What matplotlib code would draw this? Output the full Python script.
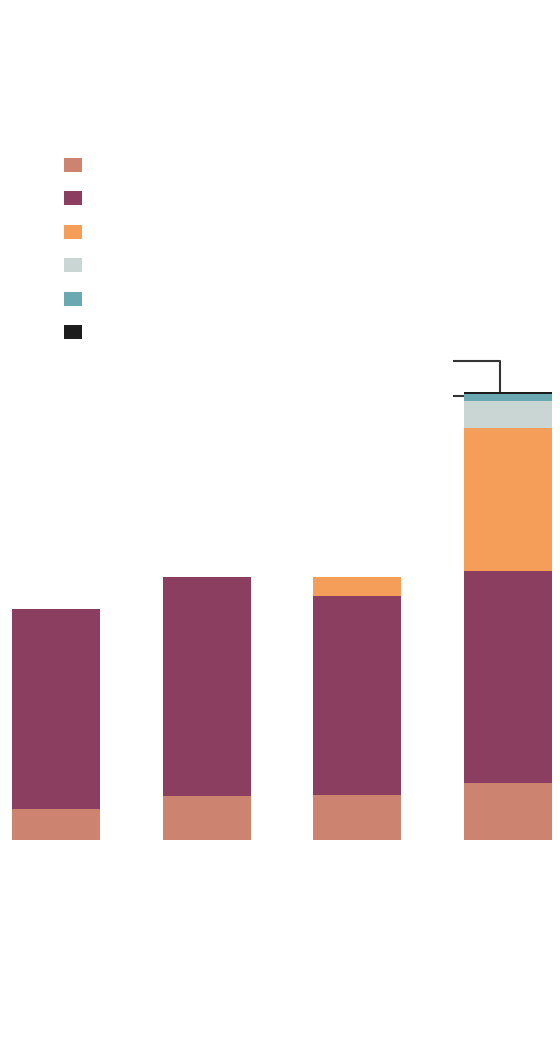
import matplotlib
matplotlib.use("Agg")
import matplotlib.pyplot as plt
import numpy as np

# stacked values, bottom to top (arbitrary units)
groups = ["A", "B", "C", "D"]
salmon = [31, 44, 45, 57]
purple = [200, 219, 199, 212]
orange = [0, 0, 19, 143]
grey = [0, 0, 0, 27]
teal = [0, 0, 0, 7]
black = [0, 0, 0, 2]

series = [salmon, purple, orange, grey, teal, black]
colors = ["#cc8470", "#8b3e5f", "#f59e5a", "#c9d6d3", "#6aa8b2", "#1c1c1c"]

W, H = 560, 1052
fig = plt.figure(figsize=(W / 100, H / 100), dpi=100)

# main axes covers the whole canvas, baseline at pixel row 840
ax = fig.add_axes([0, 0, 1, 1])
ax.set_xlim(0, W)
ax.set_ylim(840 - H, 840)
ax.axis("off")

x = np.array([56, 207, 357, 508])
bottom = np.zeros(len(groups))
for vals, c in zip(series, colors):
    ax.bar(x, vals, width=88, bottom=bottom, color=c, linewidth=0)
    bottom += np.array(vals)

# bracket pointing at the thin top segments of the last bar
i = len(groups) - 1
top = bottom[i]
teal_mid = top - black[i] - teal[i] / 2 + 1.5
left = x[i] - 44
ax.plot([left - 11, x[i] - 8, x[i] - 8], [top + 31, top + 31, top],
        color="#333333", lw=1.5, solid_capstyle="butt")
ax.plot([left - 11, left], [teal_mid, teal_mid],
        color="#333333", lw=1.5, solid_capstyle="butt")

# legend swatches (no labels in the reference)
lax = fig.add_axes([64 / W, 1 - 348.7 / H, 18 / W, 200.4 / H])
lax.barh(np.arange(len(colors)), 1, height=0.42, color=colors, linewidth=0)
lax.set_xlim(0, 1)
lax.set_ylim(len(colors) - 0.5, -0.5)
lax.axis("off")

fig.savefig("out.png", dpi=100)
